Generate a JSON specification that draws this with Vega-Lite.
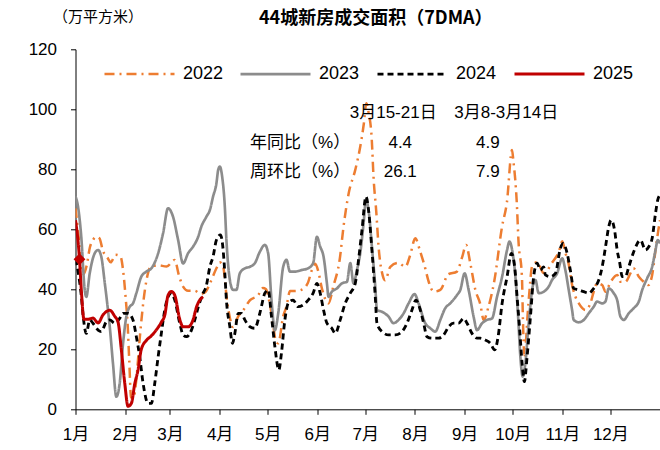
{
  "$schema": "https://vega.github.io/schema/vega-lite/v6.json",
  "autosize": "none",
  "width": 584.5,
  "height": 360,
  "padding": {"left": 75.5, "top": 49.3, "right": 0, "bottom": 40.7},
  "background": "white",
  "config": {"view": {"stroke": null}, "font": "Liberation Sans"},
  "title": {"text": "44城新房成交面积（7DMA）", "font": "Noto Sans CJK SC", "fontSize": 18, "fontWeight": "bold", "color": "black", "anchor": "middle", "dx": 8, "dy": 23},
  "datasets": {
    "series": [
      {"year":"2022","day":0,"value":67},{"year":"2022","day":1.5,"value":60},{"year":"2022","day":3,"value":52},{"year":"2022","day":5,"value":45},{"year":"2022","day":7,"value":48},{"year":"2022","day":9,"value":54},{"year":"2022","day":11,"value":56.5},{"year":"2022","day":13,"value":57.5},{"year":"2022","day":15,"value":57},{"year":"2022","day":17,"value":53},{"year":"2022","day":20,"value":50.5},{"year":"2022","day":22,"value":49},{"year":"2022","day":25,"value":51.5},{"year":"2022","day":28,"value":51},{"year":"2022","day":30,"value":45},{"year":"2022","day":31.5,"value":36},{"year":"2022","day":32.5,"value":29},{"year":"2022","day":33.5,"value":17},{"year":"2022","day":34.7,"value":4},{"year":"2022","day":36,"value":3.5},{"year":"2022","day":38,"value":10},{"year":"2022","day":40,"value":23},{"year":"2022","day":43.4,"value":40},{"year":"2022","day":47,"value":47.5},{"year":"2022","day":51.5,"value":48},{"year":"2022","day":56.9,"value":47.6},{"year":"2022","day":62,"value":49.8},{"year":"2022","day":64.5,"value":44.8},{"year":"2022","day":67.2,"value":40.9},{"year":"2022","day":70.3,"value":39.5},{"year":"2022","day":74.5,"value":39.5},{"year":"2022","day":78,"value":38.5},{"year":"2022","day":81,"value":39},{"year":"2022","day":84,"value":42},{"year":"2022","day":88,"value":47},{"year":"2022","day":90,"value":49},{"year":"2022","day":92,"value":48},{"year":"2022","day":94.7,"value":36},{"year":"2022","day":96.6,"value":30},{"year":"2022","day":98.5,"value":27.4},{"year":"2022","day":101.6,"value":31},{"year":"2022","day":104.7,"value":33},{"year":"2022","day":109,"value":36.4},{"year":"2022","day":114,"value":38},{"year":"2022","day":117,"value":40.4},{"year":"2022","day":119,"value":40},{"year":"2022","day":121,"value":36},{"year":"2022","day":123,"value":30},{"year":"2022","day":125,"value":23},{"year":"2022","day":126.6,"value":22},{"year":"2022","day":129.7,"value":31},{"year":"2022","day":131.6,"value":34},{"year":"2022","day":134,"value":39.4},{"year":"2022","day":137,"value":39.4},{"year":"2022","day":141,"value":39.8},{"year":"2022","day":145,"value":42},{"year":"2022","day":147.6,"value":46.4},{"year":"2022","day":149.7,"value":48.5},{"year":"2022","day":151.6,"value":46},{"year":"2022","day":154,"value":40},{"year":"2022","day":158,"value":35.3},{"year":"2022","day":161,"value":41},{"year":"2022","day":165,"value":50},{"year":"2022","day":167.4,"value":61},{"year":"2022","day":170.6,"value":72},{"year":"2022","day":174.7,"value":79.8},{"year":"2022","day":177.8,"value":87.5},{"year":"2022","day":180,"value":95},{"year":"2022","day":181.6,"value":102},{"year":"2022","day":183,"value":99},{"year":"2022","day":185,"value":90},{"year":"2022","day":186.1,"value":77.5},{"year":"2022","day":187.8,"value":66},{"year":"2022","day":189.3,"value":54},{"year":"2022","day":191.9,"value":44.5},{"year":"2022","day":193.4,"value":43},{"year":"2022","day":196.6,"value":47.5},{"year":"2022","day":201.6,"value":48.8},{"year":"2022","day":206,"value":47.5},{"year":"2022","day":209,"value":51.4},{"year":"2022","day":212.2,"value":57},{"year":"2022","day":215.3,"value":52.5},{"year":"2022","day":218.4,"value":47},{"year":"2022","day":220.3,"value":43},{"year":"2022","day":223.8,"value":39.2},{"year":"2022","day":227.8,"value":39.8},{"year":"2022","day":232.8,"value":45},{"year":"2022","day":238.2,"value":45.9},{"year":"2022","day":241.6,"value":51},{"year":"2022","day":243.9,"value":54.8},{"year":"2022","day":246.6,"value":48.5},{"year":"2022","day":249.7,"value":39.8},{"year":"2022","day":252.8,"value":35},{"year":"2022","day":254.9,"value":29.8},{"year":"2022","day":257.8,"value":34},{"year":"2022","day":261.6,"value":43},{"year":"2022","day":266.4,"value":61},{"year":"2022","day":269.4,"value":69},{"year":"2022","day":272.6,"value":86.4},{"year":"2022","day":273.4,"value":83},{"year":"2022","day":275.6,"value":68.5},{"year":"2022","day":276.6,"value":56.4},{"year":"2022","day":278.8,"value":44},{"year":"2022","day":279.4,"value":30},{"year":"2022","day":280.3,"value":18},{"year":"2022","day":282.8,"value":35},{"year":"2022","day":285.3,"value":48},{"year":"2022","day":288.4,"value":49},{"year":"2022","day":292.4,"value":45.4},{"year":"2022","day":297.8,"value":49},{"year":"2022","day":301.8,"value":52.5},{"year":"2022","day":304,"value":56},{"year":"2022","day":306,"value":52},{"year":"2022","day":307.8,"value":48.9},{"year":"2022","day":310.3,"value":41},{"year":"2022","day":312.2,"value":37.5},{"year":"2022","day":314.3,"value":35.3},{"year":"2022","day":318.4,"value":33.1},{"year":"2022","day":321.6,"value":35.4},{"year":"2022","day":323.4,"value":38.8},{"year":"2022","day":325.7,"value":42},{"year":"2022","day":328.9,"value":41.4},{"year":"2022","day":331,"value":39.2},{"year":"2022","day":334,"value":42.3},{"year":"2022","day":338.3,"value":44.8},{"year":"2022","day":340.3,"value":42.5},{"year":"2022","day":343.4,"value":42.5},{"year":"2022","day":346.6,"value":45.4},{"year":"2022","day":348.4,"value":47},{"year":"2022","day":351.8,"value":44.2},{"year":"2022","day":356,"value":42},{"year":"2022","day":357.8,"value":41.4},{"year":"2022","day":360.1,"value":44.8},{"year":"2022","day":362.2,"value":53},{"year":"2022","day":364,"value":59.8},{"year":"2022","day":365,"value":63},
      {"year":"2023","day":0,"value":71},{"year":"2023","day":1.6,"value":67.5},{"year":"2023","day":3.6,"value":57.5},{"year":"2023","day":5.75,"value":39.8},{"year":"2023","day":6.75,"value":37.5},{"year":"2023","day":8.9,"value":45.4},{"year":"2023","day":12,"value":52},{"year":"2023","day":14.1,"value":53.1},{"year":"2023","day":16.1,"value":50.9},{"year":"2023","day":18.3,"value":42},{"year":"2023","day":20.3,"value":33},{"year":"2023","day":21.4,"value":27.5},{"year":"2023","day":23.4,"value":15.3},{"year":"2023","day":25.5,"value":4.2},{"year":"2023","day":27.6,"value":8.7},{"year":"2023","day":29.7,"value":22},{"year":"2023","day":31.75,"value":30.9},{"year":"2023","day":33.9,"value":34.2},{"year":"2023","day":35.9,"value":35.3},{"year":"2023","day":38,"value":38.7},{"year":"2023","day":41.1,"value":44.2},{"year":"2023","day":44.25,"value":45.9},{"year":"2023","day":47.4,"value":47},{"year":"2023","day":51.6,"value":52},{"year":"2023","day":54.7,"value":58.7},{"year":"2023","day":57.8,"value":67},{"year":"2023","day":60.9,"value":64.2},{"year":"2023","day":64.1,"value":56.4},{"year":"2023","day":67.2,"value":48.6},{"year":"2023","day":70.3,"value":52},{"year":"2023","day":73.4,"value":54.2},{"year":"2023","day":76.6,"value":57.5},{"year":"2023","day":78.6,"value":60.9},{"year":"2023","day":81.75,"value":64.2},{"year":"2023","day":83.9,"value":66.4},{"year":"2023","day":85.9,"value":70.9},{"year":"2023","day":88,"value":75.3},{"year":"2023","day":89.1,"value":79.8},{"year":"2023","day":90.1,"value":80.9},{"year":"2023","day":91.6,"value":77.5},{"year":"2023","day":93.25,"value":67.5},{"year":"2023","day":94.25,"value":56.4},{"year":"2023","day":96.4,"value":43.1},{"year":"2023","day":98.4,"value":39.8},{"year":"2023","day":100.5,"value":39.8},{"year":"2023","day":102.6,"value":45.3},{"year":"2023","day":105.75,"value":47},{"year":"2023","day":108.9,"value":47.5},{"year":"2023","day":112,"value":48.7},{"year":"2023","day":115.1,"value":52.5},{"year":"2023","day":118.25,"value":54.8},{"year":"2023","day":120.3,"value":52},{"year":"2023","day":122.4,"value":36.4},{"year":"2023","day":124.5,"value":26.4},{"year":"2023","day":126.6,"value":32},{"year":"2023","day":129.7,"value":47.5},{"year":"2023","day":131.75,"value":49.8},{"year":"2023","day":133.9,"value":45.9},{"year":"2023","day":137,"value":45.9},{"year":"2023","day":141.1,"value":46.4},{"year":"2023","day":145.3,"value":47},{"year":"2023","day":148.4,"value":48.7},{"year":"2023","day":150.75,"value":57.5},{"year":"2023","day":152.8,"value":54.2},{"year":"2023","day":154.9,"value":50.9},{"year":"2023","day":157,"value":42},{"year":"2023","day":158,"value":37.5},{"year":"2023","day":160.1,"value":39.2},{"year":"2023","day":163.25,"value":40.3},{"year":"2023","day":166.4,"value":42},{"year":"2023","day":169.5,"value":42.5},{"year":"2023","day":171.6,"value":48.7},{"year":"2023","day":173.6,"value":42},{"year":"2023","day":175.75,"value":46.4},{"year":"2023","day":177.8,"value":52},{"year":"2023","day":179.9,"value":62},{"year":"2023","day":181.4,"value":69.8},{"year":"2023","day":183,"value":66.4},{"year":"2023","day":185.1,"value":54.2},{"year":"2023","day":187.2,"value":40.9},{"year":"2023","day":188.25,"value":33.1},{"year":"2023","day":191.4,"value":32.5},{"year":"2023","day":195.5,"value":30.9},{"year":"2023","day":198.6,"value":28.7},{"year":"2023","day":201.75,"value":29.8},{"year":"2023","day":204.9,"value":32},{"year":"2023","day":208,"value":35.3},{"year":"2023","day":211.75,"value":38.4},{"year":"2023","day":214.25,"value":35.3},{"year":"2023","day":218.4,"value":28.7},{"year":"2023","day":221.6,"value":27},{"year":"2023","day":224.7,"value":25.9},{"year":"2023","day":227.8,"value":29.8},{"year":"2023","day":230.9,"value":33.7},{"year":"2023","day":234,"value":35.3},{"year":"2023","day":238.25,"value":38.1},{"year":"2023","day":240.3,"value":39.8},{"year":"2023","day":243,"value":45.3},{"year":"2023","day":245.5,"value":39.8},{"year":"2023","day":248.6,"value":30.9},{"year":"2023","day":250.75,"value":26.4},{"year":"2023","day":253.9,"value":28.7},{"year":"2023","day":257,"value":29.8},{"year":"2023","day":260.1,"value":30.3},{"year":"2023","day":263.25,"value":37.5},{"year":"2023","day":266.4,"value":44.2},{"year":"2023","day":269.5,"value":53.1},{"year":"2023","day":271,"value":55.9},{"year":"2023","day":273,"value":52},{"year":"2023","day":274.7,"value":44.2},{"year":"2023","day":276.4,"value":30.9},{"year":"2023","day":277.8,"value":17.5},{"year":"2023","day":279.25,"value":10.9},{"year":"2023","day":280.9,"value":15.3},{"year":"2023","day":283,"value":28.7},{"year":"2023","day":285.5,"value":40.9},{"year":"2023","day":287.2,"value":43.1},{"year":"2023","day":289.25,"value":38.7},{"year":"2023","day":292.4,"value":39.2},{"year":"2023","day":295.5,"value":40.9},{"year":"2023","day":297.6,"value":43.1},{"year":"2023","day":300.75,"value":45.3},{"year":"2023","day":303.9,"value":50.3},{"year":"2023","day":305.9,"value":46.4},{"year":"2023","day":308,"value":39.8},{"year":"2023","day":310.1,"value":33.1},{"year":"2023","day":311.1,"value":29.8},{"year":"2023","day":314.25,"value":29},{"year":"2023","day":317.4,"value":29.8},{"year":"2023","day":320.5,"value":32},{"year":"2023","day":323.6,"value":34.2},{"year":"2023","day":325.75,"value":35.9},{"year":"2023","day":328.9,"value":35.3},{"year":"2023","day":330.9,"value":35.9},{"year":"2023","day":333,"value":40.3},{"year":"2023","day":336.1,"value":38.7},{"year":"2023","day":338.25,"value":36.4},{"year":"2023","day":340.3,"value":30.9},{"year":"2023","day":342.4,"value":29.8},{"year":"2023","day":345.5,"value":32},{"year":"2023","day":348.6,"value":33.7},{"year":"2023","day":351.75,"value":35.9},{"year":"2023","day":353.9,"value":39.8},{"year":"2023","day":357,"value":43.7},{"year":"2023","day":360.1,"value":47.5},{"year":"2023","day":362.2,"value":53.1},{"year":"2023","day":363.6,"value":56.4},{"year":"2023","day":365,"value":55.3},
      {"year":"2024","day":0,"value":50},{"year":"2024","day":1.6,"value":46},{"year":"2024","day":3.6,"value":38},{"year":"2024","day":5,"value":30},{"year":"2024","day":6.75,"value":25.3},{"year":"2024","day":8.9,"value":29.8},{"year":"2024","day":10.9,"value":28.7},{"year":"2024","day":14.1,"value":26.4},{"year":"2024","day":16.1,"value":25.9},{"year":"2024","day":19.25,"value":29.2},{"year":"2024","day":21.4,"value":29.8},{"year":"2024","day":24.5,"value":28.7},{"year":"2024","day":27.6,"value":30.3},{"year":"2024","day":29.7,"value":32},{"year":"2024","day":32.8,"value":32},{"year":"2024","day":35.9,"value":29.8},{"year":"2024","day":38,"value":24.2},{"year":"2024","day":40.1,"value":17.5},{"year":"2024","day":42.2,"value":8.7},{"year":"2024","day":45.3,"value":2},{"year":"2024","day":47.4,"value":2},{"year":"2024","day":49.5,"value":8.7},{"year":"2024","day":51.6,"value":17.5},{"year":"2024","day":53.6,"value":25.3},{"year":"2024","day":55.75,"value":33.1},{"year":"2024","day":57.8,"value":37.5},{"year":"2024","day":59.9,"value":38.7},{"year":"2024","day":62,"value":36.4},{"year":"2024","day":65.1,"value":28.7},{"year":"2024","day":67.2,"value":24.8},{"year":"2024","day":69.25,"value":24.2},{"year":"2024","day":72.4,"value":26.4},{"year":"2024","day":74.5,"value":29.8},{"year":"2024","day":76.6,"value":34},{"year":"2024","day":79.7,"value":38.7},{"year":"2024","day":81.6,"value":41},{"year":"2024","day":83.9,"value":47.5},{"year":"2024","day":85.9,"value":50.9},{"year":"2024","day":88,"value":56.4},{"year":"2024","day":90.5,"value":58.1},{"year":"2024","day":92.2,"value":53.1},{"year":"2024","day":93.25,"value":45.3},{"year":"2024","day":94.25,"value":36.4},{"year":"2024","day":96.4,"value":27.5},{"year":"2024","day":98,"value":22},{"year":"2024","day":99.5,"value":25.3},{"year":"2024","day":101.6,"value":32},{"year":"2024","day":103.6,"value":32},{"year":"2024","day":105.75,"value":29.8},{"year":"2024","day":108.9,"value":27.5},{"year":"2024","day":112,"value":27},{"year":"2024","day":115.1,"value":32},{"year":"2024","day":118.25,"value":38.7},{"year":"2024","day":120.3,"value":39.8},{"year":"2024","day":122.4,"value":30.9},{"year":"2024","day":124.5,"value":20.9},{"year":"2024","day":127,"value":13.1},{"year":"2024","day":128.6,"value":18.7},{"year":"2024","day":130.75,"value":29.8},{"year":"2024","day":132.8,"value":35.3},{"year":"2024","day":135.9,"value":36.4},{"year":"2024","day":139,"value":34.2},{"year":"2024","day":142.2,"value":34.8},{"year":"2024","day":145.3,"value":36.4},{"year":"2024","day":148.4,"value":38.7},{"year":"2024","day":150.75,"value":42},{"year":"2024","day":152.8,"value":38.7},{"year":"2024","day":154.9,"value":33.1},{"year":"2024","day":157,"value":28.7},{"year":"2024","day":160.1,"value":27},{"year":"2024","day":162.2,"value":25.3},{"year":"2024","day":165.3,"value":29.8},{"year":"2024","day":168.4,"value":35.3},{"year":"2024","day":171.6,"value":38.7},{"year":"2024","day":174.7,"value":42},{"year":"2024","day":176.75,"value":49.8},{"year":"2024","day":178.9,"value":59.8},{"year":"2024","day":181.4,"value":70.9},{"year":"2024","day":183,"value":66.4},{"year":"2024","day":185.1,"value":53.1},{"year":"2024","day":187.2,"value":37.5},{"year":"2024","day":188.25,"value":28.7},{"year":"2024","day":191.4,"value":25.9},{"year":"2024","day":195.5,"value":24.8},{"year":"2024","day":199.7,"value":24.8},{"year":"2024","day":203.9,"value":25.9},{"year":"2024","day":207,"value":28.7},{"year":"2024","day":210.1,"value":33.1},{"year":"2024","day":212.6,"value":36.4},{"year":"2024","day":215.3,"value":33.1},{"year":"2024","day":217.4,"value":28.7},{"year":"2024","day":219.5,"value":24.2},{"year":"2024","day":222.6,"value":23.7},{"year":"2024","day":226.75,"value":23.7},{"year":"2024","day":229.9,"value":24.8},{"year":"2024","day":233,"value":27.5},{"year":"2024","day":236.1,"value":28.7},{"year":"2024","day":239.25,"value":28.7},{"year":"2024","day":242.4,"value":30.3},{"year":"2024","day":244.5,"value":28.7},{"year":"2024","day":247.6,"value":25.3},{"year":"2024","day":250.75,"value":23.7},{"year":"2024","day":252.8,"value":23.7},{"year":"2024","day":255.9,"value":23.1},{"year":"2024","day":259.1,"value":22},{"year":"2024","day":261.75,"value":19.8},{"year":"2024","day":263.9,"value":24.2},{"year":"2024","day":266.4,"value":35.3},{"year":"2024","day":269.5,"value":44.2},{"year":"2024","day":272.2,"value":52},{"year":"2024","day":274.25,"value":47.5},{"year":"2024","day":275.75,"value":37.5},{"year":"2024","day":277.4,"value":26.4},{"year":"2024","day":278.9,"value":15.3},{"year":"2024","day":280.3,"value":9.2},{"year":"2024","day":282,"value":17.5},{"year":"2024","day":284.1,"value":30.9},{"year":"2024","day":286.1,"value":44.2},{"year":"2024","day":288.25,"value":48.7},{"year":"2024","day":290.3,"value":46.4},{"year":"2024","day":292.4,"value":47.5},{"year":"2024","day":293.4,"value":44.8},{"year":"2024","day":296.6,"value":44.2},{"year":"2024","day":299.7,"value":45.3},{"year":"2024","day":302.8,"value":53.7},{"year":"2024","day":304.5,"value":55.3},{"year":"2024","day":307,"value":52},{"year":"2024","day":309,"value":46.4},{"year":"2024","day":311.1,"value":40.3},{"year":"2024","day":314.25,"value":39.8},{"year":"2024","day":317.4,"value":39.2},{"year":"2024","day":320.5,"value":38.7},{"year":"2024","day":323.6,"value":40.3},{"year":"2024","day":326.75,"value":43.1},{"year":"2024","day":328.9,"value":47.5},{"year":"2024","day":331,"value":54.2},{"year":"2024","day":333,"value":60.9},{"year":"2024","day":334.5,"value":63.1},{"year":"2024","day":336.6,"value":59.8},{"year":"2024","day":338.25,"value":53.1},{"year":"2024","day":339.9,"value":48.7},{"year":"2024","day":341.4,"value":44.2},{"year":"2024","day":343.4,"value":44.2},{"year":"2024","day":345.5,"value":47.5},{"year":"2024","day":348.6,"value":52.5},{"year":"2024","day":352.8,"value":56.4},{"year":"2024","day":355.9,"value":53.1},{"year":"2024","day":358,"value":54.2},{"year":"2024","day":360.1,"value":57},{"year":"2024","day":362.2,"value":65.3},{"year":"2024","day":363.6,"value":69.8},{"year":"2024","day":365,"value":71.4},
      {"year":"2025","day":0,"value":63},{"year":"2025","day":2.5,"value":50},{"year":"2025","day":3.6,"value":40},{"year":"2025","day":5.3,"value":30},{"year":"2025","day":7.8,"value":30},{"year":"2025","day":10.9,"value":30.4},{"year":"2025","day":14.1,"value":28.8},{"year":"2025","day":17.2,"value":31.5},{"year":"2025","day":21.4,"value":33},{"year":"2025","day":24.5,"value":31},{"year":"2025","day":26.6,"value":29},{"year":"2025","day":28.6,"value":20},{"year":"2025","day":30.8,"value":8.5},{"year":"2025","day":32.8,"value":1},{"year":"2025","day":34.9,"value":2},{"year":"2025","day":37,"value":8.5},{"year":"2025","day":39,"value":13},{"year":"2025","day":41.1,"value":20},{"year":"2025","day":44.3,"value":23},{"year":"2025","day":47.4,"value":24.5},{"year":"2025","day":50.5,"value":26.5},{"year":"2025","day":53.6,"value":29},{"year":"2025","day":55.8,"value":31.5},{"year":"2025","day":57.8,"value":38},{"year":"2025","day":59.9,"value":39.3},{"year":"2025","day":62,"value":38},{"year":"2025","day":65.1,"value":30},{"year":"2025","day":67.2,"value":27.5},{"year":"2025","day":70.3,"value":27.5},{"year":"2025","day":73.4,"value":29.8},{"year":"2025","day":75.5,"value":34},{"year":"2025","day":77.6,"value":36.4},{"year":"2025","day":79.7,"value":37.5}
    ],
    "marker": [{"year":"2025","day":2.5,"value":50}],
    "notes": [
      {"text":"3月15-21日","day":198.4,"value":98.8},
      {"text":"3月8-3月14日","day":269,"value":98.8},
      {"text":"年同比（%）","day":140.3,"value":88.8},
      {"text":"周环比（%）","day":140.3,"value":79.1},
      {"text":"4.4","day":202.8,"value":88.8},
      {"text":"4.9","day":257.5,"value":88.8},
      {"text":"26.1","day":202.8,"value":79.1},
      {"text":"7.9","day":257.5,"value":79.1}
    ]
  },
  "encoding": {
    "x": {"field": "day", "type": "quantitative",
      "scale": {"domain": [0, 365], "nice": false, "zero": false},
      "axis": {"values": [0,31,59,90,120,151,181,212,243,273,304,334],
        "labelExpr": "['1月','2月','3月','4月','5月','6月','7月','8月','9月','10月','11月','12月'][indexof([0,31,59,90,120,151,181,212,243,273,304,334], datum.value)]",
        "title": null, "grid": false, "domainColor": "black", "tickColor": "black", "tickSize": 5,
        "labelFont": "Liberation Sans, Noto Sans CJK SC", "labelFontSize": 17, "labelColor": "black",
        "labelPadding": 12, "labelAngle": 0, "labelFlush": false, "labelOverlap": false}},
    "y": {"field": "value", "type": "quantitative",
      "scale": {"domain": [0, 120], "nice": false},
      "axis": {"values": [0,20,40,60,80,100,120], "title": "（万平方米）", "titleAngle": 0, "titleX": 22, "titleY": -33,
        "titleAlign": "center", "titleBaseline": "middle", "titleFont": "Noto Sans CJK SC", "titleFontSize": 15,
        "titleFontWeight": "normal", "titleColor": "black",
        "grid": false, "domainColor": "black", "tickColor": "black", "tickSize": 5,
        "labelFont": "Liberation Sans", "labelFontSize": 17, "labelColor": "black", "labelPadding": 14}}
  },
  "layer": [
    {
      "data": {"name": "series"},
      "mark": {"type": "line", "interpolate": "monotone", "clip": true},
      "encoding": {
        "color": {"field": "year", "type": "nominal",
          "scale": {"domain": ["2022","2023","2024","2025"], "range": ["#ED7D31","#8C8C8C","#000000","#C00000"]},
          "legend": {"orient": "none", "legendX": 27.5, "legendY": -12, "direction": "horizontal", "title": null,
            "symbolType": "stroke", "symbolSize": 4900, "labelFontSize": 18, "labelFont": "Liberation Sans",
            "labelColor": "black", "labelOffset": 7, "columnPadding": 11, "padding": 0}},
        "strokeDash": {"field": "year", "type": "nominal",
          "scale": {"domain": ["2022","2023","2024","2025"], "range": [[10,5,2,5],[1,0],[6,4],[1,0]]}},
        "strokeWidth": {"field": "year", "type": "ordinal",
          "scale": {"domain": ["2022","2023","2024","2025"], "range": [2.5,3,2,4]}}
      }
    },
    {
      "data": {"name": "marker"},
      "mark": {"type": "point", "shape": "diamond", "filled": true, "color": "#C00000", "size": 140, "opacity": 1}
    },
    {
      "data": {"name": "notes"},
      "mark": {"type": "text", "font": "Liberation Sans, Noto Sans CJK SC", "fontSize": 17, "color": "black", "align": "center", "baseline": "middle"},
      "encoding": {"text": {"field": "text", "type": "nominal"}}
    }
  ]
}
